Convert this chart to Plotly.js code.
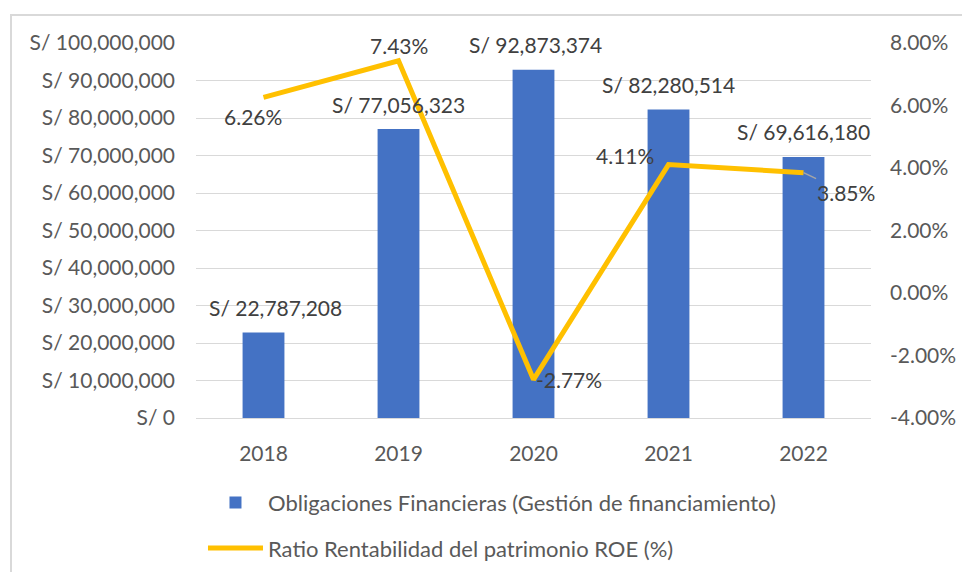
<!DOCTYPE html>
<html>
<head>
<meta charset="utf-8">
<script src="https://cdn.plot.ly/plotly-3.0.1.min.js"></script>
<style>
html,body{margin:0;padding:0;background:#fff;}
#wrap{position:relative;width:962px;height:572px;}
#chart{position:absolute;left:0;top:0;width:962px;height:572px;}
#frame{position:absolute;left:10px;top:14px;width:960px;height:570px;border-left:2px solid #d9d9d9;border-top:2px solid #d9d9d9;pointer-events:none;}
</style>
</head>
<body>
<div id="wrap"><div id="chart"></div><div id="frame"></div></div>
<script>
const years = ['2018','2019','2020','2021','2022'];
const obligaciones = [22787208, 77056323, 92873374, 82280514, 69616180];
const roe = [6.26, 7.43, -2.77, 4.11, 3.85];
const leftTicks = [0,10000000,20000000,30000000,40000000,50000000,60000000,70000000,80000000,90000000,100000000];
const rightTicks = [-4,-2,0,2,4,6,8];

const FONT = 'Lato, "Open Sans", sans-serif';
const fmtMoney = v => 'S/ ' + v.toLocaleString('en-US');
const fmtPct = v => v.toFixed(2) + '%';

const barLabelShift = [12, 0, 2, 0, 0];
const roeLabelShift = [[-11,-19],[0,15],[35,0],[-44,9],[0,0]];

const traces = [
  {type:'bar', x:years, y:obligaciones, name:'Obligaciones Financieras (Gestión de financiamiento)',
   marker:{color:'#4472C4'}, width:0.31, yaxis:'y', legendgroup:'a', hoverinfo:'skip'},
  {type:'scatter', mode:'lines', x:years, y:roe, name:'Ratio Rentabilidad del patrimonio ROE (%)',
   line:{color:'#FFC000', width:5}, yaxis:'y2', legendgroup:'b', hoverinfo:'skip'}
];

const annotations = [];
years.forEach((yr,i)=>{
  annotations.push({x:i, y:obligaciones[i], xref:'x', yref:'y', text:fmtMoney(obligaciones[i]),
    showarrow:false, yanchor:'middle', xanchor:'center', yshift:25, xshift:barLabelShift[i],
    font:{family:FONT, size:21, color:'#404040'}});
});
years.forEach((yr,i)=>{
  if (i===4) {
    annotations.push({x:i, y:roe[i], xref:'x', yref:'y2', text:fmtPct(roe[i]),
      showarrow:true, arrowhead:0, arrowcolor:'#a6a6a6', arrowwidth:1.5, ax:42, ay:20,
      standoff:0, startstandoff:0,
      font:{family:FONT, size:21, color:'#404040'}});
  } else {
    annotations.push({x:i, y:roe[i], xref:'x', yref:'y2', text:fmtPct(roe[i]),
      showarrow:false, xanchor:'center', yanchor:'middle',
      xshift:roeLabelShift[i][0], yshift:roeLabelShift[i][1],
      font:{family:FONT, size:21, color:'#404040'}});
  }
});

const layout = {
  width:962, height:572,
  margin:{l:196, r:91, t:43, b:154, autoexpand:false},
  paper_bgcolor:'#fff', plot_bgcolor:'#fff',
  font:{family:FONT, size:21, color:'#595959'},
  showlegend:true,
  legend:{orientation:'v', xref:'container', yref:'container', x:0.211, xanchor:'left', y:0.158, yanchor:'top',
    font:{family:FONT, size:22, color:'#595959'}, itemwidth:55, tracegroupgap:14,
    traceorder:'grouped', bgcolor:'rgba(0,0,0,0)'},
  xaxis:{type:'category', range:[-0.5,4.5], autorange:false, showgrid:false, showline:true, linecolor:'#d9d9d9', linewidth:1,
    ticks:'', tickfont:{family:FONT, size:21, color:'#595959'}, ticklabelstandoff:17, zeroline:false},
  yaxis:{range:[0,100000000], autorange:false, tickvals:leftTicks, ticktext:leftTicks.map(fmtMoney),
    showgrid:true, gridcolor:'#d9d9d9', gridwidth:1, zeroline:false, showline:false, ticks:'',
    tickfont:{family:FONT, size:21, color:'#595959'}, ticklabelstandoff:20},
  yaxis2:{range:[-4,8], autorange:false, overlaying:'y', side:'right', tickvals:rightTicks, ticktext:rightTicks.map(fmtPct),
    showgrid:false, zeroline:false, showline:false, ticks:'',
    tickfont:{family:FONT, size:21, color:'#595959'}, ticklabelstandoff:18},
  annotations:annotations
};

Plotly.newPlot('chart', traces, layout, {staticPlot:true, displayModeBar:false});
</script>
</body>
</html>
